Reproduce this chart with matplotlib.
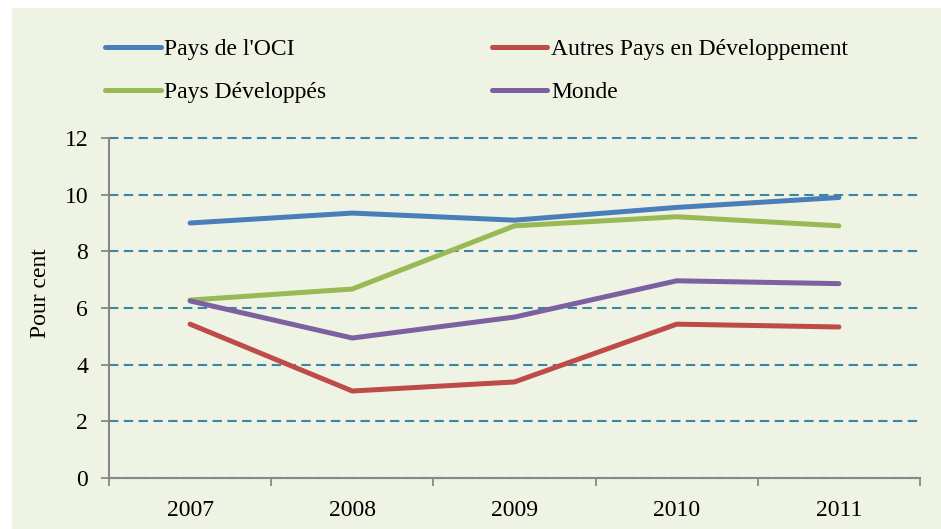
import matplotlib
matplotlib.use("Agg")
import matplotlib.pyplot as plt
from matplotlib.patches import Rectangle

years = ["2007", "2008", "2009", "2010", "2011"]
oci = [9.0, 9.35, 9.1, 9.55, 9.9]
developpes = [6.28, 6.67, 8.9, 9.22, 8.9]
autres = [5.43, 3.07, 3.39, 5.43, 5.33]
monde = [6.25, 4.94, 5.68, 6.96, 6.86]

bg = "#EEF3E4"
plt.rcParams["font.family"] = ["Liberation Serif", "DejaVu Serif"]
fs = 17

fig = plt.figure(figsize=(9.41, 5.29), dpi=100)
fig.patches.append(Rectangle((12 / 941, 0), 1, 1 - 8 / 529, transform=fig.transFigure,
                             facecolor=bg, edgecolor="none", zorder=-10))
ax = fig.add_axes([109 / 941, 1 - 478 / 529, 811 / 941, 340 / 529])
ax.set_facecolor(bg)

x = list(range(len(years)))
kw = dict(lw=3.6, solid_capstyle="round", solid_joinstyle="round")
l1, = ax.plot(x, oci, color="#4A7EBB", label="Pays de l'OCI", **kw)
l2, = ax.plot(x, developpes, color="#98B954", label="Pays Développés", **kw)
l3, = ax.plot(x, autres, color="#BE4B48", label="Autres Pays en Développement", **kw)
l4, = ax.plot(x, monde, color="#7D60A0", label="Monde", **kw)

ax.set_xlim(-0.5, len(years) - 0.5)
ax.set_ylim(0, 12)
ax.set_yticks(range(0, 13, 2))
ax.set_xticks(x)
ax.set_xticklabels(years)
ax.set_xticks([i - 0.5 for i in range(len(years) + 1)], minor=True)

ax.grid(axis="y", color="#3A88A0", linestyle=(0, (4.5, 2.6)), lw=1.5)
ax.set_axisbelow(True)
for gl in ax.get_ygridlines():
    gl.set_clip_on(False)
for s in ["top", "right"]:
    ax.spines[s].set_visible(False)
for s in ["left", "bottom"]:
    ax.spines[s].set_color("#888888")
    ax.spines[s].set_linewidth(1.5)

ax.tick_params(axis="x", which="major", length=0, pad=16, labelsize=fs)
ax.tick_params(axis="x", which="minor", length=6, width=1.3, color="#888888")
ax.tick_params(axis="y", length=6, width=1.3, color="#888888", pad=9, labelsize=fs)

ax.set_ylabel("Pour cent", fontsize=fs)
ax.yaxis.set_label_coords(-0.072, 0.544)

fig.legend(handles=[l1, l2, l3, l4], ncol=2, frameon=False, fontsize=fs,
           loc="upper left", bbox_to_anchor=(96 / 941, 1 - 29 / 529),
           borderaxespad=0, handlelength=2.35, handletextpad=0.15,
           columnspacing=7.0, labelspacing=0.93)

fig.savefig("out.png", dpi=100)
